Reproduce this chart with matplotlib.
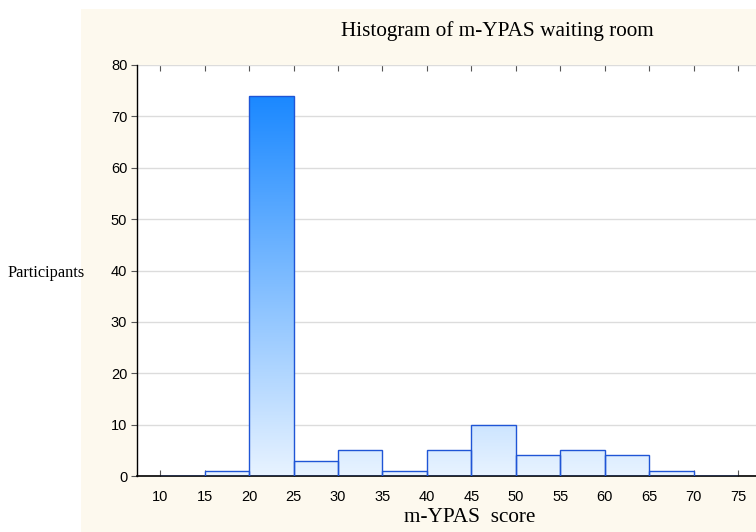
"""
Histogram of m-YPAS waiting room
"""
import numpy as np
import matplotlib.pyplot as plt
from matplotlib.patches import Rectangle
from matplotlib.colors import LinearSegmentedColormap

bin_left = [10, 15, 20, 25, 30, 35, 40, 45, 50, 55, 60, 65, 70]
counts = [0, 1, 74, 3, 5, 1, 5, 10, 4, 5, 4, 1, 0]
x_ticks = [10, 15, 20, 25, 30, 35, 40, 45, 50, 55, 60, 65, 70, 75]
y_ticks = [0, 10, 20, 30, 40, 50, 60, 70, 80]

fig = plt.figure(figsize=(7.56, 5.32), dpi=100)
fig.patch.set_facecolor('white')
# cream panel behind the graph
fig.patches.append(Rectangle((81/756, 0), 1, (532-9)/532, transform=fig.transFigure,
                             facecolor='#fdf9ee', edgecolor='none', zorder=-10))

ax = fig.add_axes([137/756, 56/532, 627/756, 411/532])
ax.set_facecolor('white')

bars = ax.bar(bin_left, counts, width=5, align='edge', facecolor='none',
              edgecolor='#1f55d6', linewidth=1.0, zorder=3)

# vertical gradient, same scale for every bar
cmap = LinearSegmentedColormap.from_list('g', ['#e8f3ff', '#1a88ff'])
grad = np.linspace(0, 1, 256).reshape(-1, 1)
top = max(counts)
for b in bars:
    if b.get_height() <= 0:
        continue
    im = ax.imshow(grad, cmap=cmap, aspect='auto', origin='lower',
                   extent=[b.get_x(), b.get_x() + b.get_width(), 0, top], zorder=2)
    im.set_clip_path(b)

ax.set_xlim(7.4, 77.9)
ax.set_ylim(0, 80)

ax.set_yticks(y_ticks)
ax.set_xticks(x_ticks)
ax.yaxis.grid(True, color='#dcdcdc', linewidth=1.0, zorder=0)
ax.set_axisbelow(True)

ax.tick_params(axis='x', direction='in', top=True, length=4, labelsize=10.5, pad=10, width=0.8, color='#555555')
ax.tick_params(axis='y', direction='out', right=True, length=4, labelsize=10.5, pad=3, width=0.8, color='#555555')
for s in ['top', 'right']:
    ax.spines[s].set_visible(False)
ax.spines['left'].set_linewidth(1.0)
ax.spines['bottom'].set_linewidth(1.2)
for lab in ax.get_xticklabels() + ax.get_yticklabels():
    lab.set_family('Liberation Sans')

fig.text(497/756, 1 - 31/532, 'Histogram of m-YPAS waiting room', ha='center', va='center',
         family='Liberation Serif', fontsize=15.3)
fig.text(7/756, 1 - 273/532, 'Participants', ha='left', va='center',
         family='Liberation Serif', fontsize=11.7)
fig.text(470/756, 1 - 518/532, 'm-YPAS  score', ha='center', va='center',
         family='Liberation Serif', fontsize=15.3)

plt.savefig('out.png', dpi=100, facecolor=fig.get_facecolor())
